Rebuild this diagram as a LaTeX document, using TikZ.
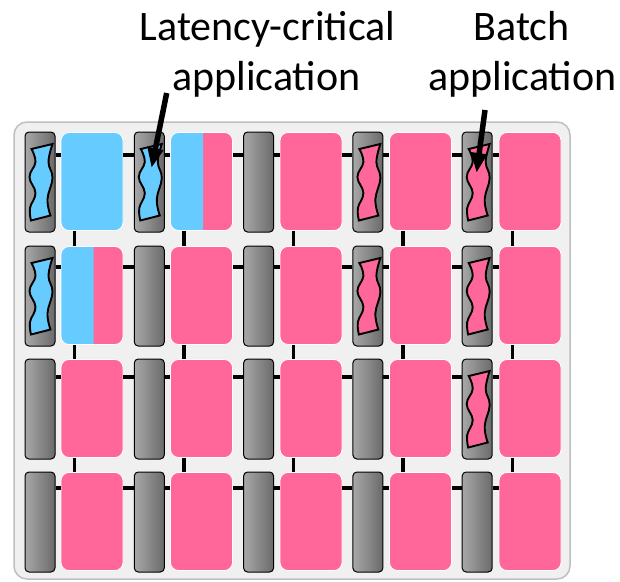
\documentclass[tikz,border=0pt]{standalone}
\usepackage{fontspec}
\setmainfont{Carlito}
\usetikzlibrary{arrows.meta,calc}
\definecolor{lcblue}{HTML}{66CCFF}
\definecolor{bpink}{HTML}{FF6699}
\definecolor{panelfill}{HTML}{F0F0F0}
\definecolor{paneldraw}{HTML}{BFBFBF}
\definecolor{coreL}{HTML}{A8A8A8}
\definecolor{coreR}{HTML}{6A6A6A}
\tikzset{
  pics/app/.style={code={
    \draw[line width=1.9pt, fill=#1, line join=miter]
      plot[smooth, tension=0.7] coordinates {(12.5,-38) (8.5,-20) (12.5,-4) (7.5,17) (10.5,33.5)}
      -- plot[smooth, tension=0.7] coordinates {(-9,38.5) (-10,26) (-4.5,11) (-10.5,-5) (-4.5,-20) (-8.5,-33)}
      -- cycle;
  }}
}
\begin{document}
\begin{tikzpicture}[x=1pt,y=-1pt,
  core/.style={draw=black, line width=1pt, rounded corners=4pt, minimum width=30pt,
    minimum height=100pt, inner sep=0pt, left color=coreL, right color=coreR},
  cache/.style={draw=white, line width=0.8pt, rounded corners=8pt, minimum width=62pt,
    minimum height=98pt, inner sep=0pt},
  link/.style={line width=3.4pt, draw=black},
  pointer/.style={line width=5.5pt, draw=black, -{Triangle[length=20pt,width=15pt]}},
  lbl/.style={font=\fontsize{42}{50}\selectfont, inner sep=0pt, text=black}]
\useasboundingbox (0,0) rectangle (620,581);
\draw[paneldraw, line width=1.5pt, fill=panelfill, rounded corners=13pt] (14,122) rectangle (570,579);
% caches and cores
\foreach \r/\yc in {1/182,2/296,3/409,4/522} {
  \foreach \c in {1,...,5} {
    \node[cache, fill=bpink] (cache-\r-\c) at ({92+109.5*(\c-1)},{\yc-0.5}) {};
    \node[core] (core-\r-\c) at ({40+109.3*(\c-1)},\yc) {};
  }
}
% latency-critical share of caches
\node[cache, fill=lcblue] (lc-1-1) at (cache-1-1) {};
\begin{scope}
  \clip ($(cache-1-2.north west)+(-2,-2)$) rectangle ($(cache-1-2.south west)+(33,2)$);
  \node[cache, fill=lcblue] (lc-1-2) at (cache-1-2) {};
\end{scope}
\begin{scope}
  \clip ($(cache-2-1.north west)+(-2,-2)$) rectangle ($(cache-2-1.south west)+(33,2)$);
  \node[cache, fill=lcblue] (lc-2-1) at (cache-2-1) {};
\end{scope}
% horizontal links
\foreach \r/\ly in {1/155,2/267,3/377,4/488} {
  \foreach \c in {1,...,5} {
    \draw[link] (core-\r-\c.east |- 0,\ly) -- (cache-\r-\c.west |- 0,\ly);
  }
  \foreach \c [evaluate=\c as \n using int(\c+1)] in {1,...,4} {
    \draw[link] (cache-\r-\c.east |- 0,\ly) -- (core-\r-\n.west |- 0,\ly);
  }
}
% vertical links
\foreach \r [evaluate=\r as \n using int(\r+1)] in {1,2,3} {
  \foreach \c in {1,...,5} {
    \draw[link] ($(cache-\r-\c.south west)+(14,0)$) -- ($(cache-\n-\c.north west)+(14,0)$);
  }
}
% applications
\pic at (core-1-1) {app=lcblue};
\pic at (core-1-2) {app=lcblue};
\pic at (core-2-1) {app=lcblue};
\pic at (core-1-4) {app=bpink};
\pic at (core-1-5) {app=bpink};
\pic at (core-2-4) {app=bpink};
\pic at (core-2-5) {app=bpink};
\pic at (core-3-5) {app=bpink};
% labels
\node[lbl, anchor=base] (lc1) at (267.5,40) {Latency-critical};
\node[lbl, anchor=base] (lc2) at (266.5,90) {application};
\node[lbl, anchor=base] (b1) at (521.5,40) {Batch};
\node[lbl, anchor=base] (b2) at (522.5,90) {application};
% pointers
\coordinate (lcs) at (166.7,93);
\coordinate (lct) at (151.5,168);
\coordinate (bs) at (485,110);
\coordinate (bt) at (476.5,173);
\draw[pointer] (lcs) -- (lct);
\draw[pointer] (bs) -- (bt);
\end{tikzpicture}
\end{document}
